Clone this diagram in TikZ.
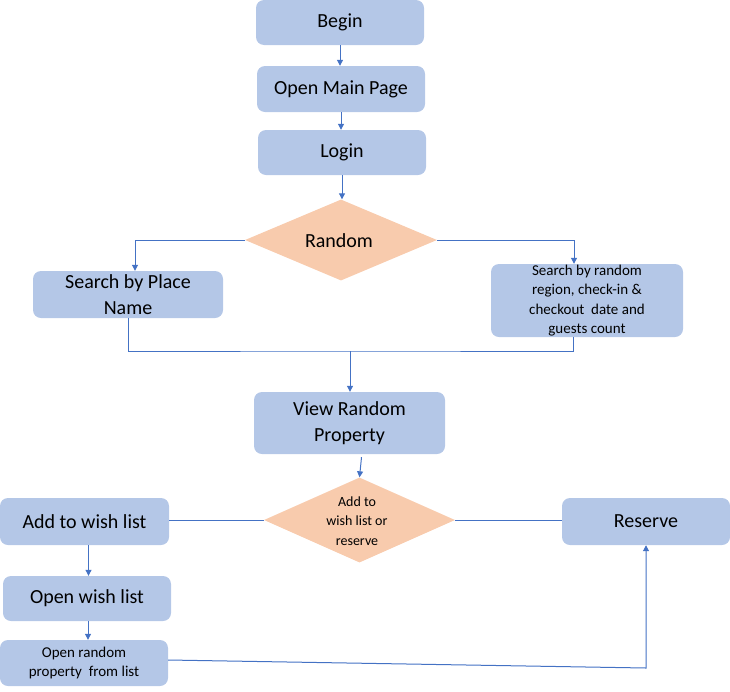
\documentclass[tikz,border=0pt]{standalone}
\usepackage{fontspec}
\setmainfont{Carlito}
\usetikzlibrary{shapes.geometric,arrows.meta}
\definecolor{boxfill}{HTML}{B4C7E7}
\definecolor{diafill}{HTML}{F8CBAD}
\definecolor{linec}{HTML}{4472C4}
\begin{document}
\begin{tikzpicture}[x=1pt,y=-1pt,
  box/.style={rectangle, rounded corners=8pt, fill=boxfill, draw=none, align=center, inner sep=0pt,
    font=\fontsize{20}{26}\selectfont},
  smallbox/.style={box, font=\fontsize{15}{19.3}\selectfont},
  dia/.style={diamond, fill=diafill, draw=none, inner sep=0pt},
  diatext/.style={align=center, inner sep=0pt},
  conn/.style={draw=linec, line width=1pt},
  arr/.style={conn, -{Triangle[length=6pt,width=6pt]}}]
\useasboundingbox (0,0) rectangle (730,691);
\node[box, minimum width=168, minimum height=45] (begin) at (340,22.5) {Begin};
\node[box, minimum width=168, minimum height=46] (open) at (341,89) {Open Main Page};
\node[box, minimum width=168, minimum height=45] (login) at (342,152.5) {Login};
\node[dia, minimum width=192, minimum height=81] (d1) at (341,240) {};
\node[diatext, font=\fontsize{20}{26}\selectfont] (d1t) at (339,241) {Random};
\node[box, minimum width=190, minimum height=47] (spn) at (128,294.5) {Search by Place\\Name};
\node[smallbox, minimum width=192, minimum height=73] (srr) at (587,300.5) {Search by random\\region, check-in \&\\checkout\ \ date and\\guests count};
\coordinate (mj) at (350,351);
\node[box, minimum width=191, minimum height=62] (vrp) at (349.5,423) {View Random\\Property};
\node[dia, minimum width=191, minimum height=85] (d2) at (359.5,520) {};
\node[diatext, font=\fontsize{14}{19.5}\selectfont] (d2t) at (357,521) {Add to\\wish list or\\reserve};
\node[box, minimum width=169, minimum height=47] (aw) at (84.5,521.5) {Add to wish list};
\node[box, minimum width=168, minimum height=47] (res) at (646,521.5) {Reserve};
\node[box, minimum width=168, minimum height=45] (ow) at (87,598.5) {Open wish list};
\node[smallbox, minimum width=168, minimum height=46] (orp) at (84,663) {Open random\\property\ \ from list};
\coordinate (cr) at (646,668);
% connectors
\draw[arr] (begin.south) -- (begin.south |- open.north);
\draw[arr] (open.south) -- (open.south |- login.north);
\draw[arr] (login.south) -- (login.south |- d1.north);
\draw[arr] (d1.west) -| ([xshift=7pt]spn.north);
\draw[arr] (d1.east) -| ([xshift=-13pt]srr.north);
\draw[conn] (spn.south) |- (mj) -| ([xshift=-14pt]srr.south);
\draw[arr] (mj) -- (mj |- vrp.north);
\draw[arr] ([xshift=12pt,yshift=-3pt]vrp.south) -- (d2.north);
\draw[conn] (d2.west) -- (d2.west -| aw.east);
\draw[conn] (d2.east) -- (d2.east -| res.west);
\draw[arr] ([xshift=4pt]aw.south) -- ([xshift=4pt]aw.south |- ow.north);
\draw[arr] ([xshift=1pt]ow.south) -- ([xshift=1pt]ow.south |- orp.north);
\draw[arr] ([yshift=3pt]orp.east) -- (cr) -- (cr |- res.south);
\end{tikzpicture}
\end{document}
